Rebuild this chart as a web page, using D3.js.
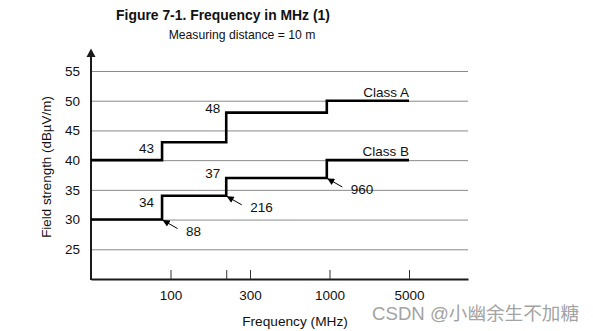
<!DOCTYPE html>
<html>
<head>
<meta charset="utf-8">
<script src="https://cdn.jsdelivr.net/npm/d3@7/dist/d3.min.js"></script>
<style>
  html, body { margin: 0; padding: 0; background: #fff; }
  svg { display: block; }
  text { font-family: "Liberation Sans", Arial, Helvetica, sans-serif; fill: #111; }
</style>
</head>
<body>
<svg id="chart" width="593" height="331"></svg>
<script>
// Band edges (MHz) and the limit level of each band (dBµV/m)
const bandEdges = [30, 88, 216, 960, 5000];
const classA = [40, 43, 48, 50];
const classB = [30, 34, 37, 40];

// Level labels: [band edge where the step rises, level]
const levelLabelsA = [[88, 43], [216, 48]];
const levelLabelsB = [[88, 34], [216, 37]];

// Frequency call-outs on the Class B curve: [frequency, level at foot of riser]
const freqCallouts = [[88, 30], [216, 34], [960, 37]];

// Axis ticks
const xTickValues = [100, 216, 300, 1000, 5000];
const xTickLabels = ["100", "", "300", "1000", "5000"];
const yTickValues = [25, 30, 35, 40, 45, 50, 55];

const svg = d3.select("#chart");
const left = 91, right = 468, bottom = 279;

// Frequency axis: logarithmic between labelled ticks, ticks evenly spaced
const x = d3.scaleLog()
  .domain([30, 100, 300, 1000, 5000, 10000])
  .range([left, 170.5, 250, 329.5, 409, right]);

const y = d3.scaleLinear().domain([20, 55]).range([bottom, 71]);

// Titles
const title = svg.append("text").attr("x", 223).attr("y", 19.5)
  .attr("text-anchor", "middle").style("font-weight", "bold").style("font-size", "14px")
  .text("Figure 7-1. Frequency in MHz (1)");
// keep the title at its intended printed width
const tw = title.node().getComputedTextLength();
if (tw > 0) title.style("font-size", (14 * 214 / tw).toFixed(2) + "px");

svg.append("text").attr("x", 242).attr("y", 38.5)
  .attr("text-anchor", "middle").style("font-size", "12.2px")
  .text("Measuring distance = 10 m");

// Horizontal grid + value labels
const yAxis = svg.append("g").attr("transform", `translate(${left},0)`)
  .call(d3.axisLeft(y).tickValues(yTickValues)
    .tickSizeInner(-(right - left)).tickSizeOuter(0).tickPadding(11)
    .tickFormat(d3.format("d")));
yAxis.select(".domain").remove();
yAxis.selectAll(".tick line").attr("stroke", "#8a8a8a").attr("stroke-width", 1);
yAxis.selectAll(".tick text").style("font-size", "13.5px").attr("fill", "#111")
  .style("font-family", "'Liberation Sans', Arial, sans-serif");

// Frequency axis
const xAxis = svg.append("g").attr("transform", `translate(0,${bottom})`)
  .call(d3.axisBottom(x).tickValues(xTickValues)
    .tickSizeInner(-9).tickSizeOuter(0).tickPadding(11.5)
    .tickFormat((d, i) => xTickLabels[i]));
xAxis.select(".domain").attr("stroke", "#1a1a1a").attr("stroke-width", 2);
xAxis.selectAll(".tick line").attr("stroke", "#333").attr("stroke-width", 1);
xAxis.selectAll(".tick text").style("font-size", "13.5px").attr("fill", "#111")
  .style("font-family", "'Liberation Sans', Arial, sans-serif");

// Vertical axis with arrow
svg.append("line").attr("x1", left).attr("x2", left).attr("y1", bottom + 1).attr("y2", 55)
  .attr("stroke", "#1a1a1a").attr("stroke-width", 2);
svg.append("path")
  .attr("d", `M${left},48.5 L${left - 4.5},57 L${left + 4.5},57 Z`)
  .attr("fill", "#1a1a1a");

// Limit curves
const stepLine = d3.line()
  .x(d => x(d[0])).y(d => y(d[1]))
  .curve(d3.curveStepAfter);

function curvePoints(levels) {
  const pts = levels.map((v, i) => [bandEdges[i], v]);
  pts.push([bandEdges[bandEdges.length - 1], levels[levels.length - 1]]);
  return pts;
}

[classA, classB].forEach(levels => {
  svg.append("path")
    .attr("d", stepLine(curvePoints(levels)))
    .attr("fill", "none").attr("stroke", "#000").attr("stroke-width", 2.6)
    .attr("stroke-linejoin", "miter").attr("stroke-linecap", "butt");
});

// Curve names
const xEnd = x(bandEdges[bandEdges.length - 1]);
svg.append("text").attr("x", xEnd).attr("y", y(classA[classA.length - 1]) - 4)
  .attr("text-anchor", "end").style("font-size", "13.5px").text("Class A");
svg.append("text").attr("x", xEnd).attr("y", y(classB[classB.length - 1]) - 4)
  .attr("text-anchor", "end").style("font-size", "13.5px").text("Class B");

// Level labels beside the risers
function levelLabels(list) {
  list.forEach(([f, v], i) => {
    const below = i === 0;
    svg.append("text")
      .attr("x", x(f) - (below ? 8 : 6))
      .attr("y", below ? y(v) + 11 : y(v) + 0.5)
      .attr("text-anchor", "end").style("font-size", "13.5px")
      .text(v);
  });
}
levelLabels(levelLabelsA);
levelLabels(levelLabelsB);

// Frequency call-outs with arrows pointing at the riser feet
svg.append("defs").append("marker")
  .attr("id", "head").attr("viewBox", "0 0 10 10")
  .attr("refX", 10).attr("refY", 5)
  .attr("markerWidth", 8).attr("markerHeight", 7)
  .attr("markerUnits", "userSpaceOnUse")
  .attr("orient", "auto")
  .append("path").attr("d", "M0,0 L10,5 L0,10 Z").attr("fill", "#000");

freqCallouts.forEach(([f, v]) => {
  const tx = x(f) + 0.5, ty = y(v) + 0.5;
  svg.append("line")
    .attr("x1", tx + 15).attr("y1", ty + 8.5)
    .attr("x2", tx).attr("y2", ty)
    .attr("stroke", "#000").attr("stroke-width", 1)
    .attr("marker-end", "url(#head)");
  svg.append("text")
    .attr("x", tx + 23.5).attr("y", ty + 15.5)
    .style("font-size", "13.5px")
    .text(f);
});

// Axis titles
svg.append("text").attr("x", 295).attr("y", 326)
  .attr("text-anchor", "middle").style("font-size", "13.7px")
  .text("Frequency (MHz)");
svg.append("text")
  .attr("transform", "translate(51,167) rotate(-90)")
  .attr("text-anchor", "middle").style("font-size", "13.4px")
  .text("Field strength (dBµV/m)");

// Watermark
svg.append("text").attr("x", 579).attr("y", 319.5)
  .attr("text-anchor", "end")
  .style("font-family", "'Liberation Sans', 'Noto Sans CJK SC', sans-serif")
  .style("font-size", "18.6px").style("fill", "#a3a3a3")
  .text("CSDN @小幽余生不加糖");
</script>
</body>
</html>
